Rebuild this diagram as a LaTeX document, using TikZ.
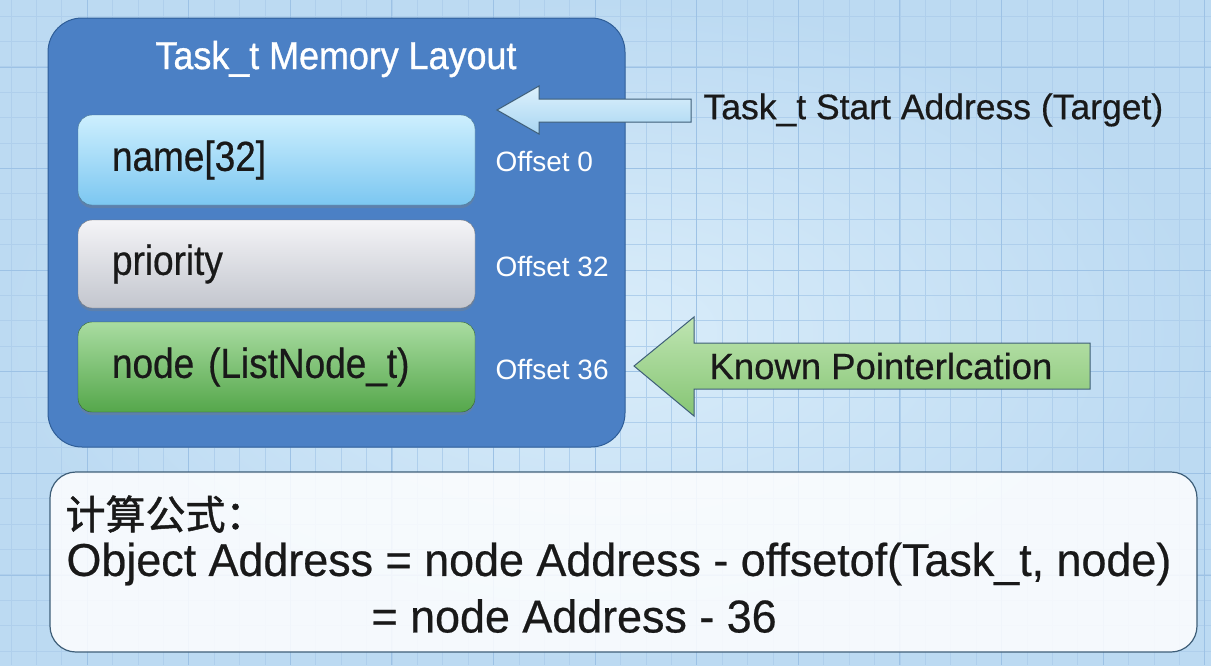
\documentclass[tikz,border=0pt]{standalone}
\usepackage{fontspec}
\setmainfont{Liberation Sans}
\newfontfamily\cjk[FakeBold=1.2]{Noto Sans CJK SC}
\newfontfamily\condfont[FakeStretch=0.88,FakeBold=0.5]{Liberation Sans}
\newfontfamily\titlefont[FakeStretch=0.92,FakeBold=0.8]{Liberation Sans}
\newfontfamily\plainfont[FakeBold=0.5]{Liberation Sans}
\newfontfamily\formulafont[FakeStretch=0.975,FakeBold=0.5]{Liberation Sans}
\usetikzlibrary{shadows}

% Warna
\definecolor{bgIn}{HTML}{DAEDFA}
\definecolor{bgOut}{HTML}{BCDAF2}
\definecolor{gridMinor}{HTML}{AFCFEC}
\definecolor{gridMajor}{HTML}{9DC2E5}
\definecolor{layoutFill}{HTML}{4B80C5}
\definecolor{layoutEdge}{HTML}{2F5E98}
\definecolor{nameTop}{HTML}{CDEFFE}
\definecolor{nameBot}{HTML}{7CC7F1}
\definecolor{prioTop}{HTML}{F4F4F7}
\definecolor{prioBot}{HTML}{C3C6CE}
\definecolor{nodeTop}{HTML}{A9DCA1}
\definecolor{nodeBot}{HTML}{55A74B}
\definecolor{startTop}{HTML}{DDF1FC}
\definecolor{startBot}{HTML}{A9D6F2}
\definecolor{knownTop}{HTML}{BFE5B2}
\definecolor{knownBot}{HTML}{86C574}
\definecolor{arrowEdge}{HTML}{3E5E78}

\tikzset{
  field/.style={draw=#1!60!black, rounded corners=14pt, minimum height=90pt,
    text width=329pt, inner xsep=34pt, align=left,
    font=\condfont\fontsize{42}{46}\selectfont, text=black!90,
    drop shadow={opacity=0.35, shadow xshift=0pt, shadow yshift=-3pt}},
  offset/.style={anchor=west, text=white, font=\fontsize{28}{30}\selectfont},
  bigtext/.style={anchor=west, text=black!90, font=\formulafont\fontsize{46}{50}\selectfont}
}

\begin{document}
\begin{tikzpicture}[x=1pt,y=-1pt]
      \useasboundingbox (0,0) rectangle (1211,665);

      % Latar belakang dengan kisi
      \shade[inner color=bgIn, outer color=bgOut] (0,0) rectangle (1211,665);
      \begin{scope}
        \clip (0,0) rectangle (1211,665);
        \foreach \i in {0,...,47}{
            \draw[gridMinor, line width=0.8pt] ({10.9+25.4*\i},0) -- ++(0,665);
          }
        \foreach \i in {0,...,26}{
            \draw[gridMinor, line width=0.8pt] (0,{16+25.4*\i}) -- ++(1211,0);
          }
        \foreach \i in {0,...,11}{
            \draw[gridMajor, line width=0.9pt] ({87.1+101.6*\i},0) -- ++(0,665);
          }
        \foreach \i in {0,...,6}{
            \draw[gridMajor, line width=0.9pt] (0,{67+101.6*\i}) -- ++(1211,0);
          }
      \end{scope}

      % Kotak tata letak memori
      \node[draw=layoutEdge, line width=1pt, fill=layoutFill, rounded corners=34pt,
        minimum width=577pt, minimum height=429pt] (layout) at (336.5,232.5) {};
      \node[text=white, font=\titlefont\fontsize{39}{42}\selectfont] (title) at (336,59) {Task\_t Memory Layout};

      % Field-field struct
      \node[field=nameBot, top color=nameTop, bottom color=nameBot] (name) at (276.5,160) {name[32]};
      \node[field=prioBot, top color=prioTop, bottom color=prioBot, minimum height=88pt] (prio) at (276.5,264) {priority};
      \node[field=nodeBot, top color=nodeTop, bottom color=nodeBot] (lnode) at (276.5,367) {node (ListNode\_t)};

      % Label offset
      \node[offset] (off0) at (492,162) {Offset 0};
      \node[offset] (off32) at (492,266) {Offset 32};
      \node[offset] (off36) at (492,369) {Offset 36};

      % Panah alamat awal (target)
      \coordinate (T1) at (497,110);
      \coordinate (T2) at (539,86);
      \coordinate (T3) at (539,99);
      \coordinate (T4) at (691,99);
      \coordinate (T5) at (691,122);
      \coordinate (T6) at (539,122);
      \coordinate (T7) at (539,134);
      \shade[top color=startTop, bottom color=startBot, draw=arrowEdge, line width=1pt]
        (T1) -- (T2) -- (T3) -- (T4) -- (T5) -- (T6) -- (T7) -- cycle;
      \node[anchor=west, text=black!90, font=\plainfont\fontsize{35.5}{40}\selectfont] (target) at (700,110) {Task\_t Start Address (Target)};

      % Panah lokasi pointer yang diketahui
      \coordinate (K1) at (634,366);
      \coordinate (K2) at (694,317);
      \coordinate (K3) at (694,343);
      \coordinate (K4) at (1090,343);
      \coordinate (K5) at (1090,389);
      \coordinate (K6) at (694,389);
      \coordinate (K7) at (694,416);
      \shade[top color=knownTop, bottom color=knownBot, draw=arrowEdge, line width=1pt]
        (K1) -- (K2) -- (K3) -- (K4) -- (K5) -- (K6) -- (K7) -- cycle;
      \node[anchor=west, text=black!90, font=\plainfont\fontsize{36.5}{40}\selectfont] (known) at (706,366) {Known Pointerlcation};

      % Kotak rumus
      \node[draw=arrowEdge, line width=1.2pt, fill=white, fill opacity=0.85, rounded corners=26pt,
        minimum width=1147pt, minimum height=180pt] (formula) at (623.5,562) {};
      \node[anchor=west, text=black!90, font=\cjk\fontsize{40}{44}\selectfont] (calc) at (62,514) {计算公式：};
      \node[bigtext] (line1) at (63,564) {Object Address = node Address - offsetof(Task\_t, node)};
      \node[bigtext] (line2) at (368,616) {= node Address - 36};
    \end{tikzpicture}
\end{document}
